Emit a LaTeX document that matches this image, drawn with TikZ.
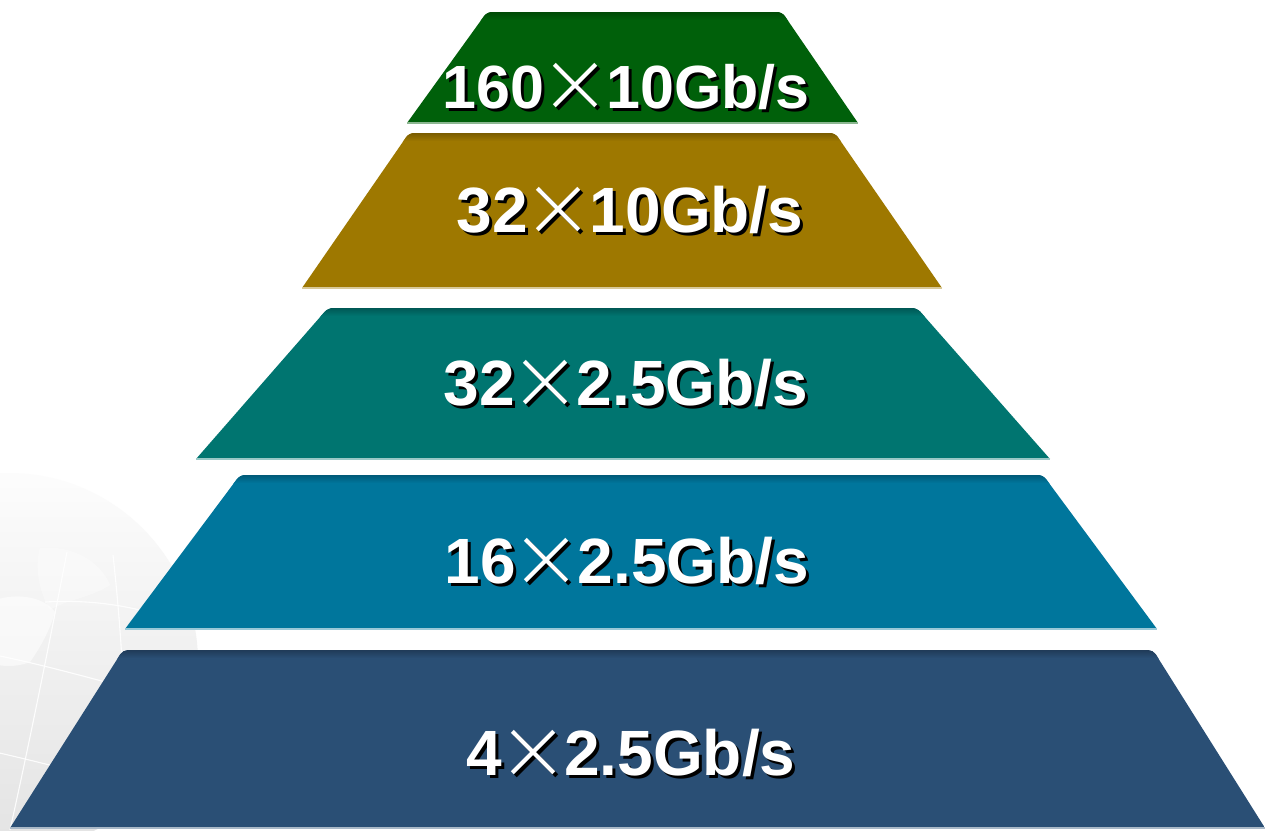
\documentclass[tikz,border=0pt]{standalone}
\usepackage{fontspec}
\usetikzlibrary{calc}
\setmainfont{Liberation Sans}
\newfontfamily\xlfont{DejaVu Sans ExtraLight}

\definecolor{tierA}{HTML}{00600A}
\definecolor{tierAdk}{HTML}{004A06}
\definecolor{tierB}{HTML}{9E7800}
\definecolor{tierBdk}{HTML}{7A5C00}
\definecolor{tierC}{HTML}{007570}
\definecolor{tierCdk}{HTML}{005855}
\definecolor{tierD}{HTML}{00769C}
\definecolor{tierDdk}{HTML}{005A78}
\definecolor{tierE}{HTML}{2A4F75}
\definecolor{tierEdk}{HTML}{203B58}

% white text with a black drop shadow
\newcommand\shtext[1]{\makebox[0pt][l]{\hspace{3pt}\raisebox{-3pt}{\color{black}#1}}#1}
% thin multiplication sign
\newcommand\tms{\makebox[62pt]{\raisebox{-4pt}{\xlfont\mdseries\fontsize{86}{86}\selectfont ×}}}

% one layer of the pyramid:
% #1 fill, #2 top band, #3 bottom highlight,
% #4 bottom-left x, #5 top-left x, #6 top-right x, #7 bottom-right x, #8 top y, #9 bottom y
\newcommand\pyrtier[9]{%
  \begin{scope}
    \clip[rounded corners=5pt] ($(#5,#8)!1.15!(#4,#9)$) -- (#5,#8) -- (#6,#8) -- ($(#6,#8)!1.15!(#7,#9)$) -- cycle;
    \fill[#1] (0,#8) rectangle (1265,#9);
    \shade[top color=#2, bottom color=#1] (0,#8) rectangle (1265,#8+8);
  \end{scope}
  \draw[#3, line width=1.4pt] (#4,#9) -- (#7,#9);
}

\begin{document}
\begin{tikzpicture}[x=1pt, y=-1pt,
  lbl/.style={text=white, inner sep=0pt, anchor=base,
    font=\bfseries\fontsize{64}{64}\selectfont},
  gridline/.style={white, line width=1.1pt, opacity=.9}]
\useasboundingbox (0,0) rectangle (1265,830);
\fill[white] (0,0) rectangle (1265,830);

% faint globe in the lower left corner
\begin{scope}
  \clip (0,0) rectangle (1265,830);
  \shade[top color=black!1, bottom color=black!11] (9,662) circle (189);
  \fill[white, opacity=.55] (-5,600) .. controls (20,592) and (45,598) .. (55,612)
     .. controls (50,630) and (40,648) .. (30,662) .. controls (15,668) and (0,666) .. (-5,664) -- cycle;
  \fill[white, opacity=.35] (40,548) .. controls (70,545) and (100,560) .. (110,585)
     .. controls (90,598) and (65,600) .. (50,610) .. controls (38,590) and (35,565) .. (40,548) -- cycle;
  \draw[gridline] (-5,655) .. controls (60,668) and (130,690) .. (200,706);
  \draw[gridline] (-5,752) .. controls (40,762) and (100,778) .. (190,800);
  \draw[gridline] (45,602) .. controls (80,600) and (110,603) .. (140,610);
  \draw[gridline] (67,552) .. controls (50,640) and (30,740) .. (10,830);
  \draw[gridline] (113,555) .. controls (118,600) and (122,650) .. (124,700);
\end{scope}

% pyramid layers, top to bottom
\pyrtier{tierA}{tierAdk}{tierA!45!white}{407}{487}{782}{858}{12}{123}
\pyrtier{tierB}{tierBdk}{tierB!40!white}{302}{409}{835}{942}{133}{288}
\pyrtier{tierC}{tierCdk}{tierC!40!white}{196}{328}{917}{1050}{308}{459}
\pyrtier{tierD}{tierDdk}{tierD!40!white}{125}{240}{1043}{1157}{475}{629}
\pyrtier{tierE}{tierEdk}{tierE!40!white}{10}{123}{1153}{1265}{650}{828}

% layer labels
\node[lbl, font=\bfseries\fontsize{61}{61}\selectfont] (t1) at (626,108) {\shtext{160\tms10Gb/s}};
\node[lbl] (t2) at (630,232) {\shtext{32\tms10Gb/s}};
\node[lbl] (t3) at (626,405) {\shtext{32\tms2.5Gb/s}};
\node[lbl] (t4) at (627,583) {\shtext{16\tms2.5Gb/s}};
\node[lbl] (t5) at (631,775) {\shtext{4\tms2.5Gb/s}};
\end{tikzpicture}
\end{document}
